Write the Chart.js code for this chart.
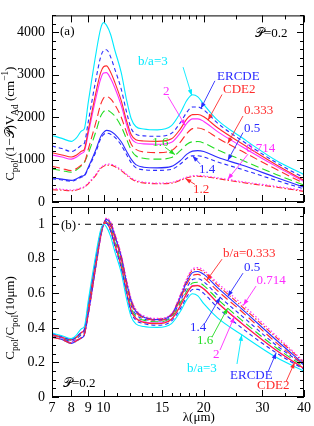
<!DOCTYPE html>
<html lang="en">
<head>
<meta charset="UTF-8">
<title>Polarization cross section vs wavelength</title>
<script src="https://cdn.jsdelivr.net/npm/chart.js"></script>
<style>
  body { margin: 0; background: #fff; }
  #wrap { position: relative; width: 314px; height: 426px; }
  canvas { position: absolute; left: 0; top: 0; }
</style>
</head>
<body>
<div id="wrap">
  <canvas id="chartA" width="314" height="426"></canvas>
  <canvas id="chartB" width="314" height="426"></canvas>
</div>
<script>
// wavelength grid (micron)
const lambda = [7, 7.5, 8, 8.3, 8.6, 8.75, 9, 9.5, 9.8, 10, 10.2, 10.5, 10.8, 11.3, 11.7, 12.1, 12.5, 13.2, 14.5, 16, 17, 17.8, 18.5, 19.2, 20, 22, 26, 33, 40];

const xMajor = [7, 8, 9, 10, 15, 20, 30, 40];
const xMinor = [11, 12, 13, 14, 16, 17, 18, 19, 25, 35];
const yMajorA = [0, 1000, 2000, 3000, 4000];
const yMajorB = [0, 0.2, 0.4, 0.6, 0.8, 1];

// panel (a): C_pol/(1-P)V_Ad  (cm^-1)
const a_ba3   = [1570,1500,1430,1520,1680,1720,2360,3530,4090,4230,4170,3950,3590,3050,2440,1970,1780,1720,1700,1800,2100,2400,2530,2480,2300,1930,1520,980,650];
const a_ercde = [1320,1260,1190,1250,1340,1380,1900,2920,3420,3570,3590,3420,3140,2660,2150,1740,1600,1560,1550,1620,1870,2120,2240,2240,2170,1860,1450,930,570];
const a_cde2  = [1160,1110,1060,1110,1200,1240,1700,2610,3050,3190,3210,3060,2830,2390,1940,1590,1470,1440,1430,1490,1720,1960,2060,2065,2010,1750,1380,880,510];
const a_ba2   = [1110,1060,1010,1060,1150,1190,1620,2480,2900,3040,3050,2910,2700,2280,1850,1510,1400,1370,1360,1410,1630,1860,1960,1960,1900,1660,1310,840,480];
const a_ba0333 = [840,790,740,790,880,920,1250,1900,2300,2450,2490,2430,2300,2000,1660,1370,1240,1180,1165,1210,1410,1620,1730,1745,1710,1510,1200,770,440];
const a_ba16  = [780,740,700,760,860,930,1150,1680,2020,2130,2170,2120,2030,1780,1500,1230,1090,1030,1010,1050,1210,1360,1420,1425,1390,1230,990,650,400];
const a_ba05  = [570,540,510,550,610,630,820,1250,1540,1640,1690,1670,1600,1420,1210,1010,880,820,805,840,975,1130,1200,1212,1190,1055,870,580,350];
const a_ba14  = [550,520,490,530,590,610,790,1200,1490,1590,1625,1600,1530,1340,1130,930,810,760,745,770,895,1030,1090,1092,1060,945,770,510,310];
const a_ba0714 = [316,300,280,300,340,360,450,660,810,860,890,895,860,760,660,570,510,470,445,460,530,590,620,626,615,572,480,370,270];
const a_ba12  = [290,280,265,285,325,345,430,640,790,840,865,870,835,740,640,550,490,450,430,445,510,570,600,606,596,552,460,350,250];

// panel (b): C_pol / C_pol(10 micron)
const b_ba3   = [.37,.355,.338,.36,.397,.407,.56,.835,.967,1.0,.985,.93,.845,.72,.575,.465,.423,.408,.403,.425,.495,.565,.598,.585,.54,.458,.36,.23,.15];
const b_ercde = [.368,.35,.332,.35,.375,.387,.53,.815,.955,1.0,1.005,.96,.875,.745,.605,.49,.445,.425,.415,.44,.51,.58,.622,.623,.6,.518,.4,.256,.16];
const b_cde2  = [.362,.346,.332,.347,.375,.388,.53,.81,.95,1.0,1.008,.965,.885,.755,.615,.5,.455,.432,.425,.45,.527,.6,.642,.645,.625,.545,.425,.27,.165];
const b_ba2   = [.362,.346,.331,.347,.376,.39,.53,.81,.95,1.0,1.008,.965,.885,.755,.615,.5,.456,.435,.428,.452,.529,.603,.645,.647,.627,.547,.428,.272,.165];
const b_ba0333 = [.345,.333,.31,.325,.345,.36,.49,.775,.935,1.0,1.022,.995,.925,.8,.66,.545,.49,.458,.445,.472,.567,.655,.703,.71,.69,.615,.495,.315,.185];
const b_ba16  = [.36,.343,.328,.345,.37,.385,.52,.8,.945,1.0,1.012,.975,.9,.77,.63,.515,.466,.445,.435,.46,.542,.615,.66,.664,.645,.567,.445,.285,.175];
const b_ba05  = [.347,.333,.31,.325,.343,.358,.485,.77,.93,1.0,1.027,1.002,.935,.81,.67,.555,.496,.462,.448,.476,.577,.668,.72,.727,.71,.633,.51,.33,.19];
const b_ba14  = [.358,.342,.322,.338,.362,.376,.505,.79,.94,1.0,1.016,.985,.91,.785,.645,.53,.478,.452,.44,.468,.555,.635,.68,.685,.667,.59,.47,.3,.185];
const b_ba0714 = [.357,.342,.316,.33,.344,.358,.475,.76,.92,1.0,1.036,1.015,.95,.825,.685,.57,.507,.47,.455,.483,.592,.688,.742,.749,.733,.66,.54,.355,.205];
const b_ba12  = [.355,.34,.315,.33,.345,.36,.48,.765,.925,1.0,1.032,1.01,.945,.82,.68,.565,.503,.466,.452,.48,.587,.68,.733,.74,.723,.648,.525,.345,.2];

const CYAN = '#00eaff', BLUE = '#2b2bff', RED = '#ff2b2b', MAG = '#ff2bff', GREEN = '#22dd22';
const FONT = '"Liberation Serif", "DejaVu Serif", serif';

// same order in both panels
const names = ['b/a=3', 'ERCDE', 'CDE2', 'b/a=2', 'b/a=0.333', 'b/a=1.6', 'b/a=0.5', 'b/a=1.4', 'b/a=0.714', 'b/a=1.2'];
const looks = [
  { c: CYAN, d: [] }, { c: BLUE, d: [4, 3] }, { c: RED, d: [] }, { c: MAG, d: [] },
  { c: RED, d: [8, 4] }, { c: GREEN, d: [8, 4] }, { c: BLUE, d: [] }, { c: BLUE, d: [4, 3] },
  { c: MAG, d: [1.5, 2] }, { c: RED, d: [6, 2, 1.5, 2] }
];

function makeSets(arrays) {
  return arrays.map((arr, k) => ({
    label: names[k],
    data: lambda.map((l, i) => ({ x: l, y: arr[i] })),
    borderColor: looks[k].c,
    borderDash: looks[k].d,
    borderWidth: 1.1,
    pointRadius: 0,
    fill: false,
    cubicInterpolationMode: 'monotone'
  }));
}

// rich text (sub/superscripts), rotated for the y titles
function richText(ctx, parts, cx, cy, size) {
  ctx.save();
  ctx.translate(cx, cy);
  ctx.rotate(-Math.PI / 2);
  const fs = p => (p[1] === 0 ? size : size * 0.72) + 'px ' + FONT;
  let w = 0;
  parts.forEach(p => { ctx.font = fs(p); w += ctx.measureText(p[0]).width; });
  let x = -w / 2;
  ctx.fillStyle = '#000';
  ctx.textBaseline = 'alphabetic';
  parts.forEach(p => {
    ctx.font = fs(p);
    const dy = p[1] < 0 ? size * 0.3 : (p[1] > 0 ? -size * 0.45 : 0);
    ctx.fillText(p[0], x, dy);
    x += ctx.measureText(p[0]).width;
  });
  ctx.restore();
}

function tipPoint(chart, k, xv) {
  const pts = chart.getDatasetMeta(k).data;
  let i = 0;
  while (i < lambda.length - 2 && lambda[i + 1] < xv) i++;
  const f = (Math.log(xv) - Math.log(lambda[i])) / (Math.log(lambda[i + 1]) - Math.log(lambda[i]));
  return { x: pts[i].x + f * (pts[i + 1].x - pts[i].x), y: pts[i].y + f * (pts[i + 1].y - pts[i].y) };
}

function arrow(ctx, x0, y0, x1, y1) {
  ctx.beginPath();
  ctx.moveTo(x0, y0);
  ctx.lineTo(x1, y1);
  ctx.stroke();
  const ang = Math.atan2(y1 - y0, x1 - x0), L = 6, W = 2.2;
  ctx.beginPath();
  ctx.moveTo(x1, y1);
  ctx.lineTo(x1 - L * Math.cos(ang) + W * Math.sin(ang), y1 - L * Math.sin(ang) - W * Math.cos(ang));
  ctx.lineTo(x1 - L * Math.cos(ang) - W * Math.sin(ang), y1 - L * Math.sin(ang) + W * Math.cos(ang));
  ctx.closePath();
  ctx.fill();
}

const decor = {
  id: 'decor',
  afterDatasetsDraw(chart, args, o) {
    const { ctx, chartArea: a, scales: { x, y } } = chart;
    ctx.save();
    ctx.strokeStyle = '#000';
    ctx.lineWidth = 1;
    ctx.strokeRect(a.left + 0.5, a.top + 0.5, a.right - a.left - 1, a.bottom - a.top - 1);
    ctx.beginPath();
    const xt = (v, len) => {
      const p = Math.round(x.getPixelForValue(v)) + 0.5;
      ctx.moveTo(p, a.bottom); ctx.lineTo(p, a.bottom - len);
      ctx.moveTo(p, a.top); ctx.lineTo(p, a.top + len);
    };
    const yt = (v, len) => {
      const p = Math.round(y.getPixelForValue(v)) + 0.5;
      ctx.moveTo(a.left, p); ctx.lineTo(a.left + len, p);
      ctx.moveTo(a.right, p); ctx.lineTo(a.right - len, p);
    };
    xMajor.forEach(v => xt(v, 7));
    xMinor.forEach(v => xt(v, 4));
    o.yMajor.forEach(v => yt(v, 7));
    for (let v = o.yMin; v <= o.yMax + 1e-9; v += o.yMinorStep) yt(v, 4);
    ctx.stroke();

    ctx.font = '13px ' + FONT;
    ctx.textBaseline = 'alphabetic';
    ctx.lineWidth = 0.9;
    o.notes.forEach(n => {
      const tx = x.getPixelForValue(n.at[0]), ty = y.getPixelForValue(n.at[1]);
      if (n.bg) {
        const w = ctx.measureText(n.t).width;
        ctx.fillStyle = '#fff';
        ctx.fillRect(tx - 2, ty - 11, w + 4, 14);
      }
      ctx.fillStyle = n.c;
      ctx.strokeStyle = n.c;
      ctx.fillText(n.t, tx, ty);
      if (n.tail) {
        const t = tipPoint(chart, n.tip[0], n.tip[1]);
        arrow(ctx, x.getPixelForValue(n.tail[0]), y.getPixelForValue(n.tail[1]), t.x, t.y);
      }
    });

    richText(ctx, o.yTitle, 14, (a.top + a.bottom) / 2 + o.titleShift, 13);
    if (o.xTitle) {
      ctx.fillStyle = '#000';
      ctx.font = '13px ' + FONT;
      ctx.fillText('\u03bb(\u03bcm)', x.getPixelForValue(17.3), a.bottom + 24);
    }
    ctx.restore();
  }
};

function panel(id, datasets, yMin, yMax, yMajor, padTop, xH, showX, deco) {
  return new Chart(document.getElementById(id), {
    type: 'line',
    data: { datasets: datasets },
    options: {
      responsive: false,
      animation: false,
      events: [],
      layout: { padding: { top: padTop, right: 10, left: 0, bottom: 0 } },
      plugins: { legend: { display: false }, tooltip: { enabled: false }, decor: deco },
      scales: {
        x: {
          type: 'logarithmic', min: 7, max: 40,
          afterBuildTicks: s => { s.ticks = xMajor.map(v => ({ value: v })); },
          afterFit: s => { s.height = xH; },
          grid: { display: false, drawTicks: false },
          border: { display: false },
          ticks: { display: showX, padding: 3, maxRotation: 0, autoSkip: false, color: '#000',
                   font: { family: FONT, size: 14 }, callback: v => String(v) }
        },
        y: {
          min: yMin, max: yMax,
          afterBuildTicks: s => { s.ticks = yMajor.map(v => ({ value: v })); },
          afterFit: s => { s.width = 52; },
          grid: { display: false, drawTicks: false },
          border: { display: false },
          ticks: { padding: 7, color: '#000', font: { family: FONT, size: 14 }, callback: v => String(v) }
        }
      }
    },
    plugins: [decor]
  });
}

const notesA = [
  { t: 'b/a=3', c: CYAN, at: [12.69, 3226], tail: [17.33, 3180], tip: [0, 18.4] },
  { t: 'ERCDE', c: BLUE, at: [21.92, 2880], tail: [21.6, 2857], tip: [1, 19.6] },
  { t: 'CDE2', c: RED, at: [22.85, 2580], tail: [22.69, 2534], tip: [2, 20.6] },
  { t: '2', c: MAG, at: [15.09, 2534], tail: [15.62, 2488], tip: [3, 17.6] },
  { t: '0.333', c: RED, at: [26.4, 2074], tail: [26.23, 2028], tip: [4, 23.6] },
  { t: '0.5', c: BLUE, at: [26.4, 1659], tail: [26.23, 1636], tip: [6, 23.6] },
  { t: '0.714', c: MAG, at: [26.8, 1175], tail: [27.16, 1129], tip: [8, 23.6] },
  { t: '1.6', c: GREEN, at: [14.0, 1313], tail: [15.3, 1290], tip: [5, 16.4] },
  { t: '1.4', c: BLUE, at: [19.35, 691], tail: [19.49, 899], tip: [7, 18.5] },
  { t: '1.2', c: RED, at: [18.57, 207], tail: [18.82, 415], tip: [9, 17.6] },
  { t: '(a)', c: '#000', at: [7.4, 3940] },
  { t: '\ud835\udcab=0.2', c: '#000', at: [28.5, 3894] }
];

const notesB = [
  { t: 'b/a=0.333', c: RED, at: [22.85, 0.809], tail: [22.69, 0.798], tip: [4, 20.4] },
  { t: '0.5', c: BLUE, at: [26.4, 0.728], tail: [26.23, 0.717], tip: [6, 23.6] },
  { t: '0.714', c: MAG, at: [28.8, 0.653], tail: [28.7, 0.642], tip: [8, 26.3] },
  { t: '1.4', c: BLUE, at: [18.18, 0.382], tail: [20.17, 0.428], tip: [7, 22.4] },
  { t: '1.6', c: GREEN, at: [19.09, 0.306], tail: [21.17, 0.347], tip: [5, 23.6] },
  { t: '2', c: MAG, at: [21.32, 0.225], tail: [22.38, 0.272], tip: [3, 24.7] },
  { t: 'b/a=3', c: CYAN, at: [17.81, 0.145], tail: [25.16, 0.191], tip: [0, 26.0] },
  { t: 'ERCDE', c: BLUE, at: [23.98, 0.104], tail: [31.19, 0.145], tip: [1, 33] },
  { t: 'CDE2', c: RED, at: [28.9, 0.046], tail: [35.3, 0.087], tip: [2, 37.5] },
  { t: '(b)', c: '#000', at: [7.45, 0.971], bg: true },
  { t: '\ud835\udcab=0.2', c: '#000', at: [7.55, 0.058] }
];

const setsA = makeSets([a_ba3, a_ercde, a_cde2, a_ba2, a_ba0333, a_ba16, a_ba05, a_ba14, a_ba0714, a_ba12]);
const setsB = makeSets([b_ba3, b_ercde, b_cde2, b_ba2, b_ba0333, b_ba16, b_ba05, b_ba14, b_ba0714, b_ba12]);
// reference level at 1
setsB.push({ label: 'unity', data: [{ x: 7, y: 1 }, { x: 40, y: 1 }], borderColor: '#000',
             borderDash: [6, 5], borderWidth: 1, pointRadius: 0 });

panel('chartA', setsA, 0, 4400, yMajorA, 11, 224, false, {
  notes: notesA, yMajor: yMajorA, yMin: 0, yMax: 4400, yMinorStep: 200, titleShift: 15,
  yTitle: [['C', 0], ['pol', -1], ['/(1\u2212\ud835\udcab)V', 0], ['Ad', -1], [' (cm', 0], ['\u22121', 1], [')', 0]]
});
panel('chartB', setsB, 0, 1.1, yMajorB, 207, 29, true, {
  notes: notesB, yMajor: yMajorB, yMin: 0, yMax: 1.1, yMinorStep: 0.05, titleShift: 16, xTitle: true,
  yTitle: [['C', 0], ['pol', -1], ['/C', 0], ['pol', -1], ['(10\u03bcm)', 0]]
});
</script>
</body>
</html>
